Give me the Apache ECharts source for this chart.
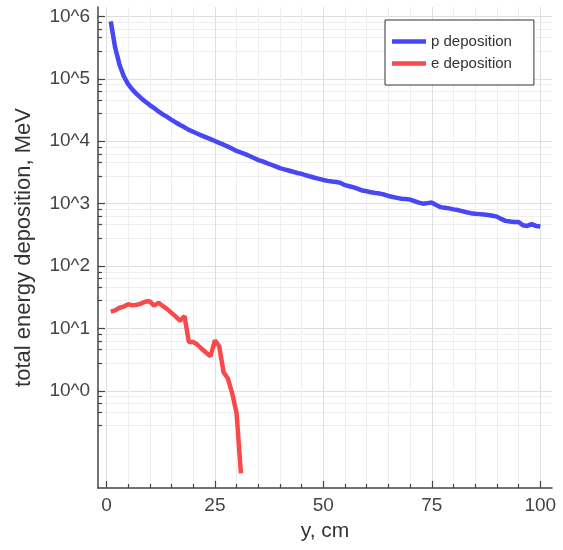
<!DOCTYPE html>
<html>
<head>
<meta charset="utf-8">
<script src="https://cdn.jsdelivr.net/npm/echarts@6.0.0/dist/echarts.min.js"></script>
<style>
  html, body { margin: 0; padding: 0; background: #fff; }
  #chart { width: 563px; height: 550px; }
</style>
</head>
<body>
<div id="chart"></div>
<script>
// depth along y, cm
const yCm = [1, 2, 3, 4, 5, 6, 7, 8, 9, 10, 11, 12, 13, 14, 15, 16, 17, 18, 19, 20,
  21, 22, 23, 24, 25, 26, 27, 28, 29, 30, 31, 32, 33, 34, 35, 36, 37, 38, 39, 40,
  41, 42, 43, 44, 45, 46, 47, 48, 49, 50, 51, 52, 53, 54, 55, 56, 57, 58, 59, 60,
  61, 62, 63, 64, 65, 66, 67, 68, 69, 70, 71, 72, 73, 74, 75, 76, 77, 78, 79, 80,
  81, 82, 83, 84, 85, 86, 87, 88, 89, 90, 91, 92, 93, 94, 95, 96, 97, 98, 99, 100];

// total energy deposition, MeV
const pDeposition = [830000, 320000, 170000, 110000, 82000, 67000, 57000, 49000, 43000, 38000,
  34000, 30000, 27000, 24500, 22000, 20000, 18200, 16700, 15200, 14200,
  13200, 12300, 11500, 10800, 10100, 9400, 8800, 8200, 7600, 7000,
  6600, 6200, 5800, 5400, 5000, 4750, 4450, 4200, 3950, 3700,
  3550, 3400, 3250, 3100, 3000, 2850, 2720, 2600, 2500, 2400,
  2320, 2260, 2220, 2150, 1980, 1900, 1820, 1720, 1620, 1580,
  1520, 1480, 1450, 1400, 1330, 1280, 1240, 1200, 1190, 1160,
  1100, 1040, 1000, 1020, 1040, 950, 880, 860, 840, 810,
  790, 760, 730, 705, 690, 680, 670, 660, 640, 620,
  570, 530, 520, 510, 510, 450, 440, 470, 440, 430];

const eDeposition = [18.6, 19.5, 21.5, 22.5, 24.5, 23.5, 24, 25.2, 27, 27.3,
  23.2, 25.9, 23, 20.5, 17.8, 15.5, 13.3, 15.8, 6.1, 6.1,
  5.5, 4.7, 4.1, 3.6, 6.5, 5.2, 2.0, 1.58, 0.91, 0.44, 0.048];

const xMajorTicks = [0, 25, 50, 75, 100];
const xMinorTicks = [5, 10, 15, 20, 30, 35, 40, 45, 55, 60, 65, 70, 80, 85, 90, 95];
const yMajorTicks = [1, 10, 100, 1000, 10000, 100000, 1000000];
const yMinorTicks = [0.28, 0.46, 0.63, 0.81, 2.8, 4.6, 6.3, 8.1, 28, 46, 63, 81,
  280, 460, 630, 810, 2800, 4600, 6300, 8100, 28000, 46000, 63000, 81000,
  280000, 460000, 630000, 810000];

const seriesNames = ['p deposition', 'e deposition'];

const font = 'Liberation Sans, Arial, sans-serif';
const yMin = Math.pow(10, -1.554);
const yMax = Math.pow(10, 6.15);
const xMin = -1.94;
const xMax = 102.7;

const chart = echarts.init(document.getElementById('chart'));

chart.setOption({
  animation: false,
  backgroundColor: '#fff',
  textStyle: { fontFamily: font },
  grid: { left: 98, right: 11, top: 7, bottom: 62 },
  legend: {
    data: seriesNames,
    orient: 'vertical',
    left: 385,
    top: 20,
    padding: [14, 22, 14, 7],
    borderColor: '#333',
    borderWidth: 1,
    borderRadius: 0,
    backgroundColor: '#fff',
    icon: 'path://M0,0 L34,0 L34,4.5 L0,4.5 Z',
    itemWidth: 34,
    itemHeight: 14,
    itemGap: 7,
    textStyle: { fontSize: 15, color: '#333', fontFamily: font }
  },
  xAxis: [
    {
      type: 'value',
      min: xMin,
      max: xMax,
      name: 'y, cm',
      nameLocation: 'middle',
      nameGap: 33,
      nameTextStyle: { fontSize: 21, color: '#333', fontFamily: font },
      axisLine: { onZero: false, lineStyle: { color: '#444', width: 1.5 } },
      axisTick: { inside: true, length: 7, customValues: xMajorTicks, lineStyle: { color: '#444', width: 1.2 } },
      axisLabel: { customValues: xMajorTicks, fontSize: 19, color: '#444', margin: 8, fontFamily: font },
      splitLine: { show: true, lineStyle: { color: '#dedede', width: 1 } }
    },
    {
      type: 'value',
      min: xMin,
      max: xMax,
      position: 'bottom',
      axisLine: { show: false, onZero: false },
      axisTick: { inside: true, length: 4, customValues: xMinorTicks, lineStyle: { color: '#444', width: 1.2 } },
      axisLabel: { show: false },
      splitLine: { show: true, lineStyle: { color: '#eeeeee', width: 1 } }
    }
  ],
  yAxis: [
    {
      type: 'log',
      logBase: 10,
      min: yMin,
      max: yMax,
      name: 'total energy deposition, MeV',
      nameLocation: 'middle',
      nameGap: 63,
      nameTextStyle: { fontSize: 22, color: '#333', fontFamily: font },
      axisLine: { show: true, onZero: false, lineStyle: { color: '#444', width: 1.5 } },
      axisTick: { show: true, inside: true, length: 7, customValues: yMajorTicks, lineStyle: { color: '#444', width: 1.2 } },
      axisLabel: {
        customValues: yMajorTicks,
        fontSize: 19,
        color: '#444',
        margin: 8,
        fontFamily: font,
        formatter: v => '10^' + Math.round(Math.log10(v))
      },
      splitLine: { show: true, lineStyle: { color: '#dedede', width: 1 } }
    },
    {
      type: 'log',
      logBase: 10,
      min: yMin,
      max: yMax,
      position: 'left',
      axisLine: { show: false, onZero: false },
      axisTick: { show: true, inside: true, length: 4, customValues: yMinorTicks, lineStyle: { color: '#444', width: 1.2 } },
      axisLabel: { show: false },
      splitLine: { show: true, lineStyle: { color: '#eeeeee', width: 1 } }
    }
  ],
  series: [
    {
      name: seriesNames[0],
      type: 'line',
      xAxisIndex: 0,
      yAxisIndex: 0,
      showSymbol: false,
      symbol: 'none',
      lineStyle: { color: '#4747f5', width: 4.5 },
      itemStyle: { color: '#4747f5' },
      data: yCm.map((x, i) => [x, pDeposition[i]])
    },
    {
      name: seriesNames[1],
      type: 'line',
      xAxisIndex: 0,
      yAxisIndex: 0,
      showSymbol: false,
      symbol: 'none',
      lineStyle: { color: '#f84a4a', width: 4.5 },
      itemStyle: { color: '#f84a4a' },
      data: eDeposition.map((v, i) => [yCm[i], v])
    }
  ]
});
</script>
</body>
</html>
